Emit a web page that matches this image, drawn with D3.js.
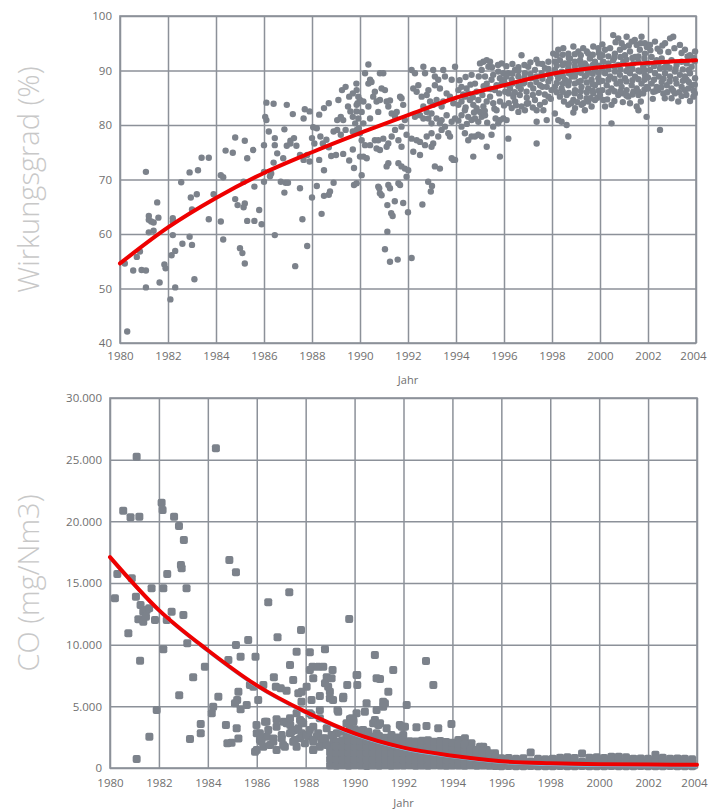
<!DOCTYPE html>
<html>
<head>
<meta charset="utf-8">
<script src="https://cdn.jsdelivr.net/npm/d3@7"></script>
<style>
  body { margin: 0; background: #fff; }
  svg { display: block; font-family: "Open Sans", "DejaVu Sans", sans-serif; }
</style>
</head>
<body>
<svg id="chart" width="709" height="809"></svg>
<script>
// ---- shared axis values ----
const yearTicks = [1980, 1982, 1984, 1986, 1988, 1990, 1992, 1994, 1996, 1998, 2000, 2002, 2004];
const efficiencyTicks = [40, 50, 60, 70, 80, 90, 100];
const coTicks = [0, 5000, 10000, 15000, 20000, 25000, 30000];

// ---- trend curves (value at each even year) ----
const trendYears = [1980, 1982, 1984, 1986, 1988, 1990, 1992, 1994, 1996, 1998, 2000, 2002, 2004];
const efficiencyTrend = [54.6, 61.2, 66.6, 71.2, 75.0, 78.5, 81.8, 85.0, 87.3, 89.4, 90.6, 91.4, 91.9];
const coTrend = [17100, 12800, 9550, 6700, 4550, 2800, 1650, 1000, 550, 380, 300, 280, 260];

// ---- Wirkungsgrad measurements [year, %] ----
const efficiencyPoints = [
  [1980.3,42.1],[1980.2,54.6],[1980.55,53.3],[1980.9,53.4],[1981.08,53.3],[1981.08,50.2],[1981.08,71.4],[1980.7,55.8],
  [1980.83,56.8],[1981.2,63.3],[1981.2,62.6],[1981.3,62.3],[1981.4,62.1],[1981.2,60.3],[1981.4,60.6],[1981.55,65.8],
  [1981.6,63.0],[1981.65,51.1],[1981.85,54.4],[1981.9,53.7],[1982.1,48.0],[1982.2,62.9],[1982.2,62.3],[1982.2,59.8],
  [1982.15,56.1],[1982.3,56.9],[1982.3,50.2],[1982.55,69.5],[1982.6,58.2],[1982.9,71.3],[1982.9,59.5],[1983.0,58.0],
  [1982.95,66.7],[1983.2,67.3],[1983.0,64.5],[1983.1,51.7],[1983.25,71.7],[1983.4,74.0],[1983.7,74.0],[1983.7,62.7],
  [1983.9,67.3],[1984.2,70.8],[1984.3,70.4],[1984.2,62.3],[1984.3,59.0],[1984.4,75.3],[1984.7,74.9],[1984.8,77.7],
  [1985.2,77.1],[1985.3,73.9],[1985.55,75.4],[1984.8,66.4],[1984.9,65.3],[1985.2,65.6],[1985.15,64.9],[1985.0,57.4],
  [1985.1,56.5],[1985.2,54.6],[1985.15,69.6],[1985.3,62.4],[1985.6,62.4],[1985.6,68.7],[1985.8,64.4],[1985.9,61.8],
  [1986.0,69.6],[1986.0,71.4],[1986.0,76.3],[1986.1,80.9],[1986.05,81.5],[1986.1,84.1],[1986.4,83.9],[1986.2,78.8],
  [1986.45,77.6],[1986.45,76.3],[1986.25,70.6],[1986.3,71.1],[1986.4,73.1],[1986.45,59.8],[1986.55,74.8],[1986.8,73.9],
  [1986.85,79.2],[1986.95,76.2],[1986.95,83.7],[1987.2,82.0],[1986.7,69.6],[1986.9,69.4],[1987.0,69.4],[1986.85,67.6],
  [1987.1,77.1],[1987.25,77.6],[1987.35,76.2],[1987.1,76.6],[1987.3,54.1],[1987.5,68.4],[1987.6,62.7],[1987.5,74.5],
  [1987.65,73.6],[1987.8,74.5],[1987.9,73.3],[1987.7,82.9],[1987.65,81.2],[1987.9,82.5],[1988.05,79.6],[1988.2,79.4],
  [1988.0,66.7],[1988.2,68.8],[1988.4,63.7],[1988.5,71.7],[1987.8,57.8],[1988.0,77.6],[1988.1,76.6],[1988.35,77.9],
  [1988.3,73.6],[1988.45,76.6],[1988.5,83.1],[1988.7,84.0],[1988.3,81.9],[1988.6,77.3],[1988.7,75.9],[1988.7,67.2],
  [1988.75,67.8],[1988.5,67.0],[1988.9,69.4],[1988.8,74.3],[1989.0,74.5],[1989.3,74.7],[1989.55,73.5],[1989.7,75.5],
  [1988.9,78.8],[1989.05,79.1],[1989.2,78.2],[1989.4,79.1],[1989.7,78.8],[1989.95,79.4],
  [1989.1,84.6],[1989.25,86.4],[1989.4,87.0],[1989.55,85.2],[1989.7,85.8],[1989.85,87.6],[1989.5,83.4],[1989.6,82.5],
  [1989.2,81.5],[1989.05,80.9],[1989.3,80.9],[1989.7,81.5],[1989.8,80.3],[1989.85,82.5],[1989.9,84.0],[1989.75,72.1],
  [1989.75,69.0],
  [1990.35,91.1],[1990.21,89.5],[1990.42,88.3],[1990.35,87.6],[1990.48,87.9],[1989.86,86.4],[1989.93,85.2],[1990.0,84.6],
  [1990.14,84.3],[1989.86,83.7],[1990.07,82.4],[1989.93,81.2],[1990.14,80.3],[1989.86,79.1],[1990.0,78.5],[1990.35,83.4],
  [1990.42,81.2],[1990.55,85.2],[1990.62,86.1],[1990.69,84.3],[1990.83,84.6],[1990.76,82.4],[1990.9,86.7],[1991.04,86.4],
  [1990.83,89.5],[1990.97,89.5],[1991.11,84.3],[1991.18,83.4],[1991.25,84.5],[1991.32,82.1],[1991.46,81.5],[1991.67,85.2],
  [1991.73,84.9],[1991.8,83.7],[1991.53,82.4],[1991.87,80.9],[1991.73,79.7],[1991.94,78.2],
  [1990.07,77.2],[1990.21,76.3],[1990.0,74.2],[1990.14,74.2],[1990.28,73.9],[1990.42,76.3],[1990.62,77.2],[1990.69,75.7],
  [1990.83,75.4],[1990.76,77.2],[1990.97,77.5],[1991.11,76.0],[1991.18,76.6],[1991.32,77.9],[1991.46,79.1],[1991.6,77.2],
  [1991.73,76.0],[1991.6,73.0],[1991.73,72.4],[1991.87,72.0],[1991.18,73.0],[1991.11,72.4],[1990.07,70.8],[1989.86,69.3],
  [1990.76,68.7],[1990.83,67.5],[1991.18,69.0],[1991.25,68.4],[1991.6,69.3],[1991.67,69.0],[1991.94,70.5],[1992.01,71.7],
  [1990.8,68.4],[1990.9,67.1],[1991.14,65.3],[1991.45,66.0],[1991.8,65.7],[1992.0,64.0],[1991.3,63.8],[1991.36,63.3],
  [1991.14,60.4],[1991.04,57.2],[1991.25,54.9],[1991.57,55.3],[1992.15,55.6],[1992.6,65.4],[1992.84,69.6],[1993.0,68.8],
  [1992.95,67.8],
  [1992.15,90.1],[1992.29,89.5],[1992.22,86.7],[1992.36,86.1],[1992.43,87.3],[1992.64,90.7],[1992.71,89.5],[1992.57,85.2],
  [1992.78,85.5],[1992.85,86.4],[1993.05,90.1],[1993.12,88.9],[1993.12,87.3],[1993.26,88.3],[1993.33,86.7],[1993.19,84.6],
  [1993.47,90.1],[1993.54,88.9],[1993.61,85.8],[1993.75,85.2],[1993.82,88.3],[1993.96,90.7],[1993.89,84.0],[1993.47,84.3],
  [1993.4,83.4],[1993.05,83.7],[1992.92,84.3],[1992.64,83.4],[1992.78,82.4],[1992.98,82.1],
  [1992.15,77.5],[1992.36,77.2],[1992.5,76.9],[1992.71,76.3],[1992.78,77.9],[1992.98,78.5],[1993.05,76.6],[1993.26,77.9],
  [1993.4,79.1],[1993.54,79.7],[1993.68,78.5],[1993.75,77.9],[1993.82,80.6],[1993.96,81.2],[1993.33,80.3],[1993.19,81.2],
  [1992.85,81.2],[1992.64,81.2],[1992.5,81.8],[1992.29,81.5],[1992.22,75.1],[1992.5,74.5],[1992.98,76.0],[1993.12,72.4],
  [1993.33,72.0],[1993.82,73.9],[1993.89,73.6],[1993.4,80.9],[1993.61,81.8],[1992.98,80.3],
  [1994.1,86.4],[1994.23,87.0],[1994.37,85.2],[1994.44,86.7],[1994.51,85.8],[1994.58,84.6],[1994.65,89.2],[1994.79,87.6],
  [1994.86,86.1],[1994.93,84.6],[1995.0,91.3],[1995.07,90.1],[1995.14,91.6],[1995.28,91.9],[1995.35,90.7],[1995.42,91.6],
  [1995.21,88.9],[1995.28,87.6],[1995.35,86.7],[1995.48,88.3],[1995.55,89.2],[1995.62,86.4],[1995.69,87.3],[1995.76,89.8],
  [1995.83,88.6],[1995.9,87.6],[1995.97,89.5],[1995.9,91.3],[1994.72,83.7],[1994.86,83.1],[1995.0,82.4],[1995.14,83.4],
  [1995.28,84.3],[1995.42,85.2],[1995.55,84.0],[1995.69,82.7],[1995.83,84.3],[1994.37,82.7],[1994.23,81.8],[1994.51,81.5],
  [1994.65,80.9],[1994.79,81.2],[1994.93,80.6],[1995.07,81.5],[1995.21,81.8],[1994.1,83.7],[1994.23,84.3],[1995.83,80.9],
  [1995.97,81.2],[1996.11,80.9],
  [1994.15,88.2],[1994.4,88.8],[1994.6,87.4],[1994.95,88.9],[1995.15,87.1],[1995.5,90.6],[1995.75,91.0],[1996.0,88.2],
  [1994.3,85.6],[1994.7,85.1],[1995.1,85.5],[1995.45,86.6],[1995.8,85.8],[1996.05,86.1],
  [1994.4,83.2],[1994.75,82.3],[1995.2,82.6],[1995.6,83.0],[1996.0,83.6],
  [1994.1,80.8],[1994.45,80.2],[1995.3,80.4],[1995.65,81.2],
  [1994.23,79.7],[1994.37,78.5],[1994.51,77.2],[1994.65,77.9],[1994.79,77.9],[1994.93,78.2],[1995.07,77.9],[1995.28,76.0],
  [1995.48,78.2],[1995.55,79.7],[1995.76,80.3],[1996.18,77.5],[1994.72,74.2],[1995.83,74.2],[1993.96,73.6],
  [1996.18,89.5],[1996.32,88.3],[1996.46,90.1],[1996.6,88.9],[1996.73,92.8],[1996.8,87.6],[1996.87,89.5],[1997.01,90.7],
  [1997.15,88.6],[1997.29,90.1],[1997.43,91.3],[1997.57,89.5],[1997.71,90.4],[1997.85,91.6],[1997.92,88.6],[1997.78,87.0],
  [1997.5,87.3],[1997.22,86.7],[1996.94,86.1],[1996.66,85.5],[1996.39,85.2],[1996.25,86.7],[1996.46,84.3],[1996.73,83.4],
  [1997.01,84.0],[1997.29,84.6],[1997.5,83.7],[1997.36,82.7],[1997.64,82.7],[1997.85,85.2],[1997.98,86.4],[1996.32,83.1],
  [1996.6,82.4],[1996.87,82.7],
  [1996.1,90.8],[1996.35,91.2],[1996.6,90.6],[1996.85,91.0],[1997.1,91.5],[1997.35,92.0],[1997.6,91.2],[1997.85,90.3],
  [1996.1,88.9],[1996.35,89.4],[1996.6,89.9],[1996.85,88.7],[1997.1,89.3],[1997.35,88.9],[1997.6,88.5],[1997.85,89.3],
  [1996.1,87.4],[1996.35,87.6],[1996.6,87.1],[1996.85,87.8],[1997.1,87.4],[1997.35,87.9],[1997.6,87.0],[1997.85,88.0],
  [1996.2,85.8],[1996.45,86.0],[1996.7,86.6],[1996.95,85.0],[1997.2,85.5],[1997.45,85.9],[1997.7,85.6],[1997.95,84.8],
  [1996.2,84.0],[1996.5,83.6],[1996.95,83.9],[1997.2,83.2],[1997.7,84.2],
  [1997.36,80.6],[1997.78,80.9],[1997.36,76.6],[1998.12,82.1],[1998.26,80.9],[1998.4,80.6],[1998.61,80.0],[1998.68,77.9],
  [1998.89,82.3],
  [1998.05,93.1],[1998.26,93.8],[1998.47,94.1],[1998.68,93.1],[1998.89,94.4],[1999.1,93.5],[1999.3,94.1],[1999.51,93.1],
  [1999.72,94.4],[1999.93,94.1],[1998.12,91.6],[1998.33,91.9],[1998.54,91.3],[1998.75,92.2],[1998.96,91.6],[1999.17,91.9],
  [1999.37,91.3],[1999.58,92.2],[1999.79,91.6],[2000.0,92.5],[1998.12,90.1],[1998.4,89.8],[1998.68,90.4],[1998.96,89.5],
  [1999.23,90.4],[1999.51,89.8],[1999.79,90.1],[1998.26,88.6],[1998.54,88.3],[1998.82,88.9],[1999.1,87.9],[1999.37,88.9],
  [1999.65,88.3],[1999.93,88.6],[1998.12,87.0],[1998.4,86.7],[1998.68,87.3],[1998.96,86.4],[1999.23,87.0],[1999.51,86.7],
  [1999.79,87.3],[1998.33,85.2],[1998.61,85.5],[1998.89,84.6],[1999.17,85.2],[1999.44,84.9],[1999.72,85.8],[1998.68,83.7],
  [1998.96,83.1],[1999.23,83.7],[1999.51,84.3],[1999.79,84.6],[1999.37,82.7],[1999.65,83.4],
  [1998.2,92.8],[1998.45,92.9],[1998.7,92.3],[1998.95,93.0],[1999.2,92.8],[1999.45,93.5],[1999.7,92.9],[1999.95,93.2],
  [1998.2,90.9],[1998.45,91.0],[1998.7,91.3],[1998.95,90.8],[1999.2,91.1],[1999.45,90.8],[1999.7,91.0],[1999.95,90.9],
  [1998.2,89.3],[1998.45,89.0],[1998.7,89.5],[1998.95,88.9],[1999.2,89.6],[1999.45,89.2],[1999.7,89.4],[1999.95,89.6],
  [1998.2,87.7],[1998.45,87.6],[1998.7,88.0],[1998.95,87.6],[1999.2,88.1],[1999.45,87.8],[1999.7,87.5],[1999.95,87.9],
  [1998.2,86.0],[1998.45,86.1],[1998.7,85.9],[1998.95,85.8],[1999.2,86.2],[1999.45,86.0],[1999.7,86.3],[1999.95,86.3],
  [1998.5,84.3],[1998.8,84.0],[1999.05,84.2],[1999.3,84.0],[1999.6,84.9],[1999.9,85.0],
  [2000.0,85.5],[2000.14,84.6],[2000.21,83.4],[2000.48,83.7],[2000.48,80.3],
  [2000.55,96.5],[2000.76,95.9],[2000.9,95.0],[2001.11,96.2],[2001.32,95.3],[2001.53,94.7],[2001.73,96.2],[2001.87,95.0],
  [2000.21,93.8],[2000.42,94.1],[2000.62,93.1],[2000.83,93.8],[2001.04,92.8],[2001.25,93.5],[2001.46,92.5],[2001.66,93.8],
  [2001.87,93.1],[2000.14,91.6],[2000.35,91.3],[2000.55,91.9],[2000.76,91.0],[2000.97,91.6],[2001.18,90.7],[2001.39,91.3],
  [2001.6,91.6],[2001.8,90.7],[2000.21,89.5],[2000.42,88.9],[2000.62,89.8],[2000.83,89.2],[2001.04,88.6],[2001.25,89.5],
  [2001.46,88.9],[2001.66,89.8],[2001.87,89.2],[2000.28,87.3],[2000.48,86.7],[2000.69,87.6],[2000.9,87.0],[2001.11,86.4],
  [2001.32,87.3],[2001.53,86.7],[2001.73,87.6],[2001.94,87.0],[2000.76,85.5],[2000.97,85.8],[2001.18,85.2],[2001.39,86.1],
  [2001.6,85.5],[2001.8,85.8],[2001.53,83.4],[2001.6,82.7],[2001.94,81.5],[2002.5,79.1],
  [2000.1,94.8],[2000.65,95.2],[2001.0,94.3],[2001.2,94.6],[2001.45,95.6],[2001.7,95.0],[2001.95,94.3],
  [2000.1,92.8],[2000.35,92.6],[2000.6,92.4],[2000.85,92.5],[2001.1,92.0],[2001.35,92.3],[2001.6,92.6],[2001.85,92.2],
  [2000.1,90.4],[2000.35,90.2],[2000.6,90.7],[2000.85,90.2],[2001.1,89.9],[2001.35,90.3],[2001.6,90.0],[2001.85,90.1],
  [2000.1,88.1],[2000.35,88.3],[2000.6,88.5],[2000.85,88.0],[2001.1,88.0],[2001.35,88.2],[2001.6,88.4],[2001.85,88.3],
  [2000.1,86.4],[2000.35,86.0],[2000.6,86.2],[2000.85,86.2],[2001.1,85.4],[2001.35,85.6],[2001.6,86.1],[2001.85,86.5],
  [2000.3,84.7],[2000.6,84.4],[2000.95,84.2],[2001.25,84.0],[2001.7,84.3],
  [2002.08,94.7],[2002.29,95.3],[2002.5,93.5],[2002.71,95.0],[2002.92,95.9],[2003.05,96.2],[2003.33,94.7],[2003.54,93.8],
  [2003.75,92.8],[2003.96,93.5],[2002.15,92.5],[2002.36,91.9],[2002.57,92.2],[2002.78,91.3],[2002.98,91.9],[2003.19,91.0],
  [2003.4,91.6],[2003.61,91.3],[2003.82,90.7],[2002.08,90.1],[2002.29,89.5],[2002.5,90.4],[2002.71,89.5],[2002.92,88.9],
  [2003.12,89.8],[2003.33,89.2],[2003.54,88.9],[2003.75,89.5],[2003.96,88.6],[2002.15,87.6],[2002.36,87.0],[2002.57,87.9],
  [2002.78,87.3],[2002.98,86.7],[2003.19,87.6],[2003.4,87.0],[2003.61,88.3],[2003.82,87.3],[2002.22,86.1],[2002.43,86.4],
  [2002.64,85.8],[2003.12,85.8],[2003.54,86.4],[2003.68,86.7],[2002.98,84.9],[2003.26,84.3],[2003.89,85.2],
  [2002.1,93.7],[2002.4,94.0],[2002.6,94.6],[2002.85,93.4],[2003.1,94.1],[2003.4,93.2],[2003.65,92.6],[2003.9,92.3],
  [2002.0,91.3],[2002.25,90.8],[2002.45,91.4],[2002.7,90.6],[2002.9,90.5],[2003.15,90.3],[2003.45,90.2],[2003.7,90.1],[2003.95,91.7],
  [2002.0,88.7],[2002.25,88.3],[2002.45,88.9],[2002.65,88.5],[2002.9,88.0],[2003.15,88.4],[2003.45,88.1],[2003.7,87.9],[2003.95,87.4],
  [2002.0,86.7],[2002.3,86.2],[2002.55,86.9],[2002.8,86.0],[2003.05,86.3],[2003.3,86.0],[2003.6,85.5],[2003.9,86.3],
  [2002.2,84.8],[2002.7,84.9],[2003.4,85.3],[2003.75,84.4],[2003.95,85.8]
];

// ---- CO measurements [year, mg/Nm3] ----
const coPoints = [
  [1981.09,25243],[1984.33,25918],[1980.54,20864],[1980.84,20323],[1981.2,20377],[1982.11,21513],[1982.15,20918],[1982.62,20377],
  [1982.82,19621],[1983.02,18485],[1982.9,16458],[1982.93,16188],[1984.88,16863],[1985.15,15863],[1980.3,15728],[1980.89,15377],
  [1982.34,15728],[1981.7,14566],[1982.18,14566],[1983.13,14566],[1980.2,13755],[1981.06,13890],[1981.25,13214],[1981.36,12674],
  [1981.5,12809],[1981.6,12944],[1981.16,12052],[1981.36,11863],[1981.47,12269],[1981.84,11998],[1982.32,11998],[1982.52,12674],
  [1983.0,12403],[1980.75,10917],[1982.18,9620],[1983.16,10106],[1981.23,8701],[1983.88,8215],[1983.4,7349],[1982.83,5889],
  [1981.91,4700],[1981.61,2537],[1981.09,726],[1986.47,13431],[1987.33,14241],[1989.78,12079],[1987.81,11187],[1986.85,10593],
  [1985.15,9971],[1985.65,10376],[1984.84,8756],[1985.34,9026],[1985.95,9026],[1987.63,9431],[1988.17,9377],[1988.79,9620],
  [1987.36,8350],[1988.28,8215],[1988.51,8215],[1988.72,8215],[1989.1,7944],[1986.7,7349],[1987.49,7133],[1988.86,7349],
  [1988.79,6864],[1986.27,6729],[1986.78,6594],[1986.98,6458],[1985.86,6594],[1985.72,6729],[1985.25,6188],[1985.2,5511],
  [1984.43,5782],[1984.22,4970],[1984.16,4430],[1985.11,5241],[1985.34,4754],[1985.59,5106],[1986.06,5511],[1987.7,6053],
  [1987.83,5376],[1988.04,6594],[1988.24,5511],[1988.58,5836],[1988.99,5647],[1989.54,5782],[1989.7,6729],[1990.11,6729],
  [1990.11,7539],[1990.83,9160],[1991.58,7944],[1990.9,7268],[1991.38,6188],[1991.17,5376],[1990.49,5241],[1990.42,4565],
  [1989.3,4700],[1989.81,3970],[1990.9,4700],[1992.13,5106],[1983.71,3565],[1983.71,2808],[1983.27,2348],[1984.74,3484],
  [1985.18,3214],[1985.25,2402],[1984.97,2051],[1984.8,1997],
  [1987.84,6188],[1988.17,7945],[1988.31,7270],[1989.06,7270],[1988.92,6594],[1988.99,6188],[1989.12,5512],[1989.53,5647],
  [1989.33,4566],[1989.67,3620],[1989.95,3890],[1990.08,4431],[1988.24,4296],[1988.58,4026],[1988.31,3350],[1987.9,3620],
  [1987.77,3890],[1986.4,3755],[1987.1,3755],[1987.37,3485],[1987.57,3080],[1987.84,2810],[1987.22,6270],
  [1986.0,2809],[1986.13,2268],[1986.27,1728],[1986.0,1458],[1986.41,2539],[1986.54,1863],[1986.68,2133],[1986.81,1458],
  [1987.02,2404],[1987.15,1728],[1987.36,2809],[1987.49,2133],[1987.63,1728],[1987.77,2404],[1987.97,1998],[1988.11,2539],
  [1988.31,2133],[1988.45,2539],[1988.65,1998],[1988.79,2404],[1988.99,1728],[1989.13,2268],[1989.27,2809],[1989.4,1998],
  [1989.54,1458],[1989.74,2268],[1989.88,1728],[1990.08,2539],[1988.31,1458],[1988.58,1728],[1988.86,1863],
  [1985.99,3484],[1986.13,2808],[1986.2,2132],[1986.34,3754],[1986.47,3078],[1986.68,2402],[1986.81,3348],[1987.02,2673],
  [1987.08,1862],[1987.22,3619],[1987.43,2943],[1987.56,2267],[1987.7,3214],[1987.83,3754],[1988.04,2673],[1988.17,3078],
  [1988.31,2267],[1988.51,2808],[1988.72,2402],[1988.86,3214],[1989.06,2673],[1989.26,2132],[1989.47,2943],[1989.67,2402],
  [1989.81,3214],[1990.01,2673],[1990.15,2132],[1990.35,2943],[1990.56,2537],[1990.76,3619],[1990.9,2808],[1991.1,2267],
  [1991.31,3214],[1991.51,2673],[1991.72,2132],[1991.92,3348],[1991.99,2673],
  [1989.26,1591],[1989.54,1186],[1989.81,781],[1990.08,1456],[1990.35,916],[1990.63,511],[1990.9,1321],[1991.17,781],
  [1991.44,375],[1991.72,1186],[1991.99,646],[1989.06,646],[1989.4,375],[1990.15,375],[1991.04,375],[1991.85,240],
  [1988.31,1456],[1985.93,1321],[1988.17,4430],[1988.58,4700],[1987.63,4430],[1987.36,4024],[1986.81,3943],
  [1990.08,7540],[1991.17,4972],[1989.88,4026],[1989.95,3755],[1990.83,3890],[1990.97,3485],[1991.04,3620],[1990.35,3080],
  [1990.56,2945],[1991.85,3485],[1991.99,3350],[1992.53,3296],[1992.94,3404],[1993.42,3215],[1992.92,8675],[1993.22,6729],
  [1993.96,3566],[1994.24,2268],[1994.51,2404],[1994.78,1998],[1995.26,1728],[1995.4,1458],[1995.74,1188],
  [1991.04,7215],[1991.24,5242],[1992.06,3350],[1995.13,1728],
  [1989.0,200],[1989.0,700],[1989.0,1250],
  [1989.25,180],[1989.25,720],[1989.25,1240],[1989.25,1760],
  [1989.5,220],[1989.5,680],[1989.5,1210],[1989.5,1730],[1989.5,2250],
  [1989.75,190],[1989.75,710],[1989.75,1260],[1989.75,1740],[1989.75,2230],[1989.75,2700],
  [1990.0,230],[1990.0,690],[1990.0,1220],[1990.0,1770],[1990.0,2260],[1990.0,2750],[1990.0,3150],
  [1990.25,200],[1990.25,720],[1990.25,1190],[1990.25,1720],[1990.25,2240],[1990.25,2680],[1990.25,3050],
  [1990.5,170],[1990.5,700],[1990.5,1240],[1990.5,1750],[1990.5,2210],[1990.5,2620],
  [1990.75,210],[1990.75,680],[1990.75,1230],[1990.75,1710],[1990.75,2270],[1990.75,2560],
  [1991.0,190],[1991.0,730],[1991.0,1200],[1991.0,1760],[1991.0,2230],[1991.0,2600],
  [1991.25,220],[1991.25,700],[1991.25,1250],[1991.25,1730],[1991.25,2200],[1991.25,2450],
  [1991.5,180],[1991.5,690],[1991.5,1210],[1991.5,1770],[1991.5,2260],[1991.5,2500],
  [1991.75,210],[1991.75,720],[1991.75,1240],[1991.75,1700],[1991.75,2190],[1991.75,2480],
  [1992.0,200],[1992.0,680],[1992.0,1220],[1992.0,1750],[1992.0,2230],
  [1992.25,230],[1992.25,710],[1992.25,1190],[1992.25,1720],[1992.25,2170],
  [1992.5,190],[1992.5,700],[1992.5,1250],[1992.5,1760],[1992.5,2150],
  [1992.75,210],[1992.75,690],[1992.75,1230],[1992.75,1710],[1992.75,2200],
  [1993.0,180],[1993.0,720],[1993.0,1200],[1993.0,1740],[1993.0,2240],
  [1993.25,220],[1993.25,680],[1993.25,1240],[1993.25,1700],[1993.25,2120],
  [1993.5,200],[1993.5,710],[1993.5,1210],[1993.5,1750],[1993.5,2180],
  [1993.75,190],[1993.75,700],[1993.75,1230],[1993.75,1720],[1993.75,2100],
  [1994.0,210],[1994.0,690],[1994.0,1190],[1994.0,1690],[1994.0,2050],
  [1994.25,200],[1994.25,720],[1994.25,1220],[1994.25,1650],[1994.25,1950],
  [1994.5,180],[1994.5,680],[1994.5,1180],[1994.5,1600],[1994.5,1900],
  [1994.75,220],[1994.75,700],[1994.75,1150],[1994.75,1550],
  [1995.0,190],[1995.0,650],[1995.0,1100],[1995.0,1450],
  [1995.25,200],[1995.25,620],[1995.25,1050],[1995.25,1350],
  [1995.5,180],[1995.5,600],[1995.5,950],[1995.5,1200],
  [1995.75,170],[1995.75,560],[1995.75,900],
  [1996.0,150],[1996.0,480],[1996.0,800],[1996.3,160],[1996.3,500],[1996.3,820],
  [1996.6,140],[1996.6,470],[1996.6,760],[1996.9,150],[1996.9,490],[1996.9,790],
  [1997.2,160],[1997.2,520],[1997.2,1250],[1997.5,140],[1997.5,480],[1997.5,740],
  [1997.8,150],[1997.8,470],[1997.8,700],[1998.1,150],[1998.1,490],[1998.1,750],
  [1998.4,160],[1998.4,500],[1998.4,830],[1998.7,140],[1998.7,480],[1998.7,870],
  [1999.0,150],[1999.0,500],[1999.0,820],[1999.3,160],[1999.3,510],[1999.3,1180],
  [1999.6,140],[1999.6,480],[1999.6,830],[1999.9,150],[1999.9,500],[1999.9,880],
  [2000.2,150],[2000.2,490],[2000.2,820],[2000.5,160],[2000.5,520],[2000.5,920],
  [2000.8,140],[2000.8,500],[2000.8,920],[2001.1,150],[2001.1,480],[2001.1,870],
  [2001.4,150],[2001.4,470],[2001.4,740],[2001.7,160],[2001.7,490],[2001.7,780],
  [2002.0,140],[2002.0,480],[2002.0,740],[2002.3,150],[2002.3,520],[2002.3,1080],
  [2002.6,150],[2002.6,490],[2002.6,830],[2002.9,160],[2002.9,470],[2002.9,740],
  [2003.2,140],[2003.2,490],[2003.2,780],[2003.5,150],[2003.5,480],[2003.5,740],
  [2003.8,150],[2003.8,470],[2003.8,700]
];

// ---- drawing ----
const svg = d3.select("#chart");
const gridColor = "#8c9199";
const dotColor = "#7c828b";
const labelColor = "#6f6f6f";
const fmtCO = v => d3.format(",")(v).replace(/,/g, ".");

function panel(cfg) {
  const x = d3.scaleLinear().domain([1980, 2004]).range([cfg.left, cfg.right]);
  const y = d3.scaleLinear().domain(cfg.domain).range([cfg.bottom, cfg.top]);
  const g = svg.append("g");

  // vertical grid + year labels
  const xAxis = g.append("g")
    .attr("transform", `translate(0,${cfg.bottom})`)
    .call(d3.axisBottom(x).tickValues(yearTicks).tickFormat(d3.format("d"))
      .tickSizeInner(-(cfg.bottom - cfg.top)).tickSizeOuter(0).tickPadding(cfg.xPad));
  // horizontal grid + value labels
  const yAxis = g.append("g")
    .attr("transform", `translate(${cfg.left},0)`)
    .call(d3.axisLeft(y).tickValues(cfg.ticks).tickFormat(cfg.format)
      .tickSizeInner(-(cfg.right - cfg.left)).tickSizeOuter(0).tickPadding(cfg.yPad));

  [xAxis, yAxis].forEach(a => {
    a.select(".domain").remove();
    a.selectAll("line").attr("stroke", gridColor).attr("stroke-width", 1.5);
    a.selectAll("text").attr("fill", labelColor)
      .style("font-family", '"Open Sans", sans-serif').style("font-size", "11.5px");
  });
  // keep the last year label inside the page
  xAxis.selectAll(".tick").filter(d => d === 2004).select("text").attr("dx", -3);

  // plot frame
  g.append("rect")
    .attr("x", cfg.left).attr("y", cfg.top)
    .attr("width", cfg.right - cfg.left).attr("height", cfg.bottom - cfg.top)
    .attr("fill", "none").attr("stroke", gridColor).attr("stroke-width", 1.6);

  // measurements
  const pts = g.append("g").attr("fill", dotColor);
  if (cfg.marker === "circle") {
    pts.selectAll("circle").data(cfg.points).join("circle")
      .attr("cx", d => x(d[0])).attr("cy", d => y(d[1])).attr("r", 3.2);
  } else {
    const s = 8;
    pts.selectAll("rect").data(cfg.points).join("rect")
      .attr("x", d => x(d[0]) - s / 2).attr("y", d => y(d[1]) - s / 2)
      .attr("width", s).attr("height", s).attr("rx", 2);
  }

  // trend line
  const line = d3.line().x((d, i) => x(trendYears[i])).y(d => y(d)).curve(d3.curveMonotoneX);
  if (cfg.underline) {
    g.append("path").datum(cfg.trend).attr("d", line)
      .attr("transform", "translate(0,2)")
      .attr("fill", "none").attr("stroke", "#74c4ea").attr("stroke-width", 1.2);
  }
  g.append("path").datum(cfg.trend).attr("d", line)
    .attr("fill", "none").attr("stroke", "#ee0000").attr("stroke-width", 4)
    .attr("stroke-linecap", "round");

  // axis titles
  g.append("text")
    .attr("x", (cfg.left + cfg.right) / 2).attr("y", cfg.jahrY)
    .attr("text-anchor", "middle").attr("fill", labelColor)
    .style("font-size", "11px").text("Jahr");
  g.append("text")
    .attr("transform", `translate(${cfg.titleX},${(cfg.top + cfg.bottom) / 2}) rotate(-90)`)
    .attr("text-anchor", "middle").attr("dominant-baseline", "central")
    .attr("fill", "#c8c8c8").style("font-size", "29px").style("font-weight", 300)
    .text(cfg.title);
}

panel({
  left: 120, right: 696, top: 16, bottom: 343,
  domain: [40, 100], ticks: efficiencyTicks, format: d3.format("d"),
  xPad: 9, yPad: 8, points: efficiencyPoints, marker: "circle",
  trend: efficiencyTrend, underline: false,
  jahrY: 384, titleX: 27, title: "Wirkungsgrad (%)"
});

panel({
  left: 110, right: 697, top: 398, bottom: 768,
  domain: [0, 30000], ticks: coTicks, format: fmtCO,
  xPad: 11, yPad: 8, points: coPoints, marker: "square",
  trend: coTrend, underline: true,
  jahrY: 807, titleX: 27, title: "CO (mg/Nm3)"
});
</script>
</body>
</html>
